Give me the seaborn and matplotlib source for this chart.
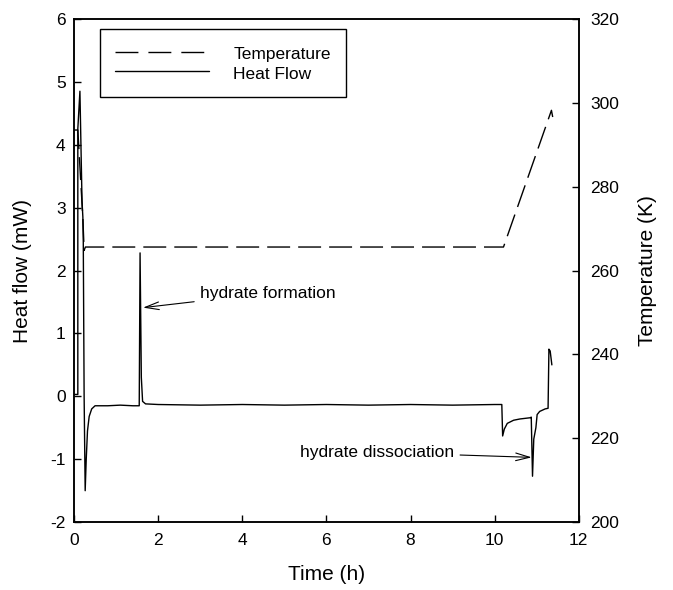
import pandas as pd
import matplotlib
matplotlib.use('Agg')
import matplotlib.pyplot as plt
import seaborn as sns
from matplotlib.lines import Line2D

# Heat flow trace (mW)
hf_time = [0.00, 0.09, 0.09, 0.14, 0.19, 0.21, 0.22, 0.24, 0.265, 0.29, 0.32, 0.36, 0.42, 0.50,
           0.80, 1.10, 1.40, 1.55, 1.57, 1.60, 1.63, 1.70, 2.00, 3.00, 4.00, 5.00, 6.00, 7.00,
           8.00, 9.00, 10.00, 10.17, 10.19, 10.23, 10.30, 10.45, 10.60, 10.85, 10.87, 10.90,
           10.93, 10.98, 11.01, 11.07, 11.20, 11.27, 11.29, 11.32, 11.36]
hf_value = [0.03, 0.03, 4.25, 4.85, 3.10, 2.85, 2.45, 0.00, -1.50, -1.00, -0.55, -0.32, -0.20, -0.15,
            -0.15, -0.14, -0.15, -0.15, 2.28, 0.30, -0.08, -0.12, -0.13, -0.14, -0.13, -0.14, -0.13, -0.14,
            -0.13, -0.14, -0.13, -0.13, -0.63, -0.52, -0.43, -0.38, -0.36, -0.34, -0.33, -1.27,
            -0.68, -0.50, -0.29, -0.24, -0.20, -0.19, 0.75, 0.72, 0.50]

# Temperature programme (K)
temp_time = [0.00, 0.09, 0.21, 0.24, 0.27, 10.21, 11.35, 11.38]
temp_value = [293.5, 293.5, 272.5, 264.8, 265.6, 265.6, 298.2, 296.6]

hf = pd.DataFrame({'Time': hf_time, 'Heat': hf_value})
temp = pd.DataFrame({'Time': temp_time, 'Temp': temp_value})

DASH = (16.5, 5.8)
LEGEND_DASH = (16.5, 7.2)

sns.set_theme(style='ticks')
plt.rcParams['font.family'] = ['Liberation Sans', 'DejaVu Sans']
plt.rcParams['axes.unicode_minus'] = False
plt.rcParams['text.color'] = 'black'
plt.rcParams['axes.labelcolor'] = 'black'
plt.rcParams['lines.scale_dashes'] = False

fig = plt.figure(figsize=(6.73, 5.9), dpi=100)
ax = fig.add_axes([0.110, 0.115, 0.750, 0.853])
ax2 = ax.twinx()

sns.lineplot(data=hf, x='Time', y='Heat', ax=ax, color='black', lw=1.0,
             sort=False, estimator=None)
sns.lineplot(data=temp, x='Time', y='Temp', ax=ax2, color='black', lw=1.0,
             sort=False, estimator=None)
ax2.lines[0].set_dashes(DASH)

ax.set_xlim(0, 12)
ax.set_ylim(-2, 6)
ax2.set_ylim(200, 320)
ax.set_xticks(range(0, 13, 2))
ax.set_yticks(range(-2, 7))
ax2.set_yticks(range(200, 321, 20))

for a in (ax, ax2):
    a.tick_params(direction='in', length=5, width=1, labelsize=12.5, colors='black')
    for s in a.spines.values():
        s.set_visible(True)
        s.set_color('black')
        s.set_linewidth(1.1)
ax.tick_params(axis='y', pad=6)
ax.tick_params(axis='x', pad=8)
ax2.tick_params(axis='y', pad=8)

ax.set_xlabel('Time (h)', fontsize=15)
ax.set_ylabel('Heat flow (mW)', fontsize=15)
ax2.set_ylabel('Temperature (K)', fontsize=15)
ax.xaxis.set_label_coords(0.5, -0.085)
ax.yaxis.set_label_coords(-0.083, 0.5)
ax2.yaxis.set_label_coords(1.118, 0.5)

arrow = dict(arrowstyle='->, head_length=0.8, head_width=0.22', color='black', lw=0.8,
             shrinkA=2, shrinkB=0)
ax.annotate('hydrate formation', xy=(1.64, 1.41), xytext=(3.0, 1.64),
            fontsize=12.5, ha='left', va='center', arrowprops=arrow)
ax.annotate('hydrate dissociation', xy=(10.88, -0.97), xytext=(5.37, -0.89),
            fontsize=12.5, ha='left', va='center', arrowprops=arrow)

handles = [Line2D([], [], color='black', lw=1.0, dashes=LEGEND_DASH),
           Line2D([], [], color='black', lw=1.0)]
leg = ax2.legend(handles, ['Temperature', 'Heat Flow'], loc='upper left',
                 bbox_to_anchor=(100 / 673, 1 - 29 / 590), bbox_transform=fig.transFigure,
                 borderaxespad=0, fontsize=12.5, handlelength=5.4, handletextpad=1.4,
                 handleheight=1.27, borderpad=0.87, labelspacing=0.06, fancybox=False,
                 framealpha=1, edgecolor='black')
leg.get_frame().set_linewidth(1.0)

fig.savefig('out.png', dpi=100)
